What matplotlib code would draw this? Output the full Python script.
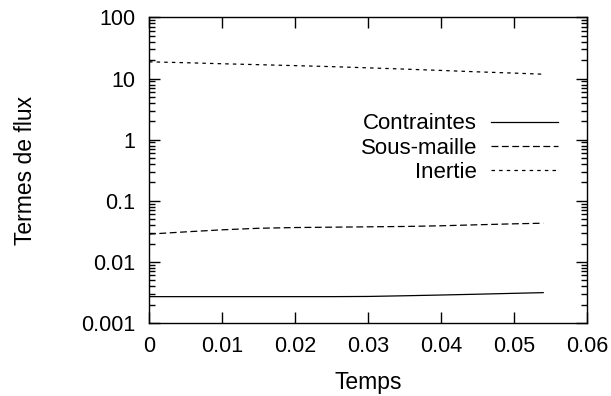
import matplotlib
matplotlib.use("Agg")
import matplotlib.pyplot as plt
from matplotlib.ticker import LogLocator, FixedLocator, NullFormatter

plt.rcParams['font.family'] = ['Liberation Sans', 'DejaVu Sans']

# temps (s) et termes de flux
temps = [0, 0.005, 0.01, 0.015, 0.02, 0.025, 0.03, 0.035, 0.04, 0.045, 0.05, 0.054]
contraintes = [0.0027, 0.0027, 0.0027, 0.0027, 0.0027, 0.0027, 0.00272,
               0.00279, 0.00287, 0.00296, 0.00306, 0.00314]
sous_maille = [0.0285, 0.031, 0.0335, 0.0355, 0.0365, 0.037, 0.0375,
               0.038, 0.039, 0.0405, 0.042, 0.043]
inertie = [18.8, 18.2, 17.5, 16.9, 16.3, 15.7, 15.0, 14.3, 13.6, 12.9, 12.3, 11.8]

xticks = [0, 0.01, 0.02, 0.03, 0.04, 0.05, 0.06]
xlabels = ['0', '0.01', '0.02', '0.03', '0.04', '0.05', '0.06']
yticks = [0.001, 0.01, 0.1, 1, 10, 100]
ylabels = ['0.001', '0.01', '0.1', '1', '10', '100']

fig = plt.figure(figsize=(6.11, 3.96), dpi=100)
ax = fig.add_axes([149/611, 1 - 323/396, 438/611, 305.5/396])

ax.plot(temps, contraintes, color='black', lw=0.9, label='Contraintes')
ax.plot(temps, sous_maille, color='black', lw=0.9, dashes=(5.5, 2.8), label='Sous-maille')
ax.plot(temps, inertie, color='black', lw=0.9, dashes=(2.8, 3.3), label='Inertie')

ax.set_yscale('log')
ax.set_xlim(0, 0.06)
ax.set_ylim(0.001, 100)
ax.xaxis.set_major_locator(FixedLocator(xticks))
ax.set_xticklabels(xlabels)
ax.yaxis.set_major_locator(FixedLocator(yticks))
ax.set_yticklabels(ylabels)
ax.yaxis.set_minor_locator(LogLocator(base=10, subs=(2, 3, 4, 5, 6, 7, 8, 9), numticks=20))
ax.yaxis.set_minor_formatter(NullFormatter())

ax.tick_params(which='both', direction='in', top=True, right=True, labelsize=15.5, width=1.0)
ax.tick_params(which='major', length=8, pad=10)
ax.tick_params(which='minor', length=4)
ax.tick_params(axis='x', pad=9)
for s in ax.spines.values():
    s.set_linewidth(1.0)

ax.set_xlabel('Temps', fontsize=16.5)
ax.set_ylabel('Termes de flux', fontsize=16.5)
ax.xaxis.set_label_coords(0.5, -0.158)
ax.yaxis.set_label_coords(-0.255, 0.5)

ax.legend(loc='upper right', bbox_to_anchor=(0.934, 0.686), frameon=False,
          markerfirst=False, fontsize=16, handlelength=3.0, handletextpad=0.65,
          labelspacing=0.15, borderpad=0, borderaxespad=0)

fig.savefig('out.png', dpi=100)
